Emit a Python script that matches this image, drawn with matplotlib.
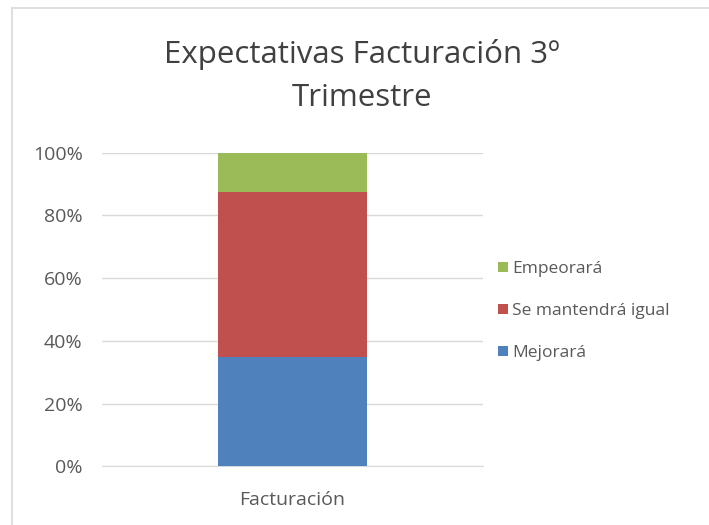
import matplotlib
matplotlib.use("Agg")
import matplotlib.pyplot as plt
from matplotlib.lines import Line2D
from matplotlib.ticker import PercentFormatter

plt.rcParams['font.family'] = ['Open Sans', 'DejaVu Sans']

category = ['Facturación']
series = ['Mejorará', 'Se mantendrá igual', 'Empeorará']
values = [35.0, 52.5, 12.5]
colors = ['#4f81bd', '#c0504d', '#9bbb59']
yticks = [0, 20, 40, 60, 80, 100]

fig = plt.figure(figsize=(7.09, 5.25), dpi=100)
# chart-area border (only top and left edges visible in the crop)
fig.lines.append(Line2D([0.017, 1.0], [0.984, 0.984], transform=fig.transFigure,
                        color='#d9d9d9', linewidth=1.2))
fig.lines.append(Line2D([0.017, 0.017], [0.0, 0.984], transform=fig.transFigure,
                        color='#d9d9d9', linewidth=1.2))
ax = fig.add_axes([0.144, 0.112, 0.537, 0.597])

bottom = 0
handles = []
for name, v, c in zip(series, values, colors):
    b = ax.bar(category, [v], bottom=bottom, width=0.39, color=c, label=name, zorder=3)
    handles.append(b)
    bottom += v

ax.set_xlim(-0.5, 0.5)
ax.set_ylim(0, 100)
ax.set_yticks(yticks)
ax.yaxis.set_major_formatter(PercentFormatter(decimals=0))
ax.grid(axis='y', color='#d9d9d9', linewidth=1, zorder=0)
for s in ['top', 'right', 'left']:
    ax.spines[s].set_visible(False)
ax.spines['bottom'].set_color('#d9d9d9')
ax.tick_params(axis='both', length=0, labelsize=14, colors='#595959')
ax.tick_params(axis='y', pad=14)
ax.tick_params(axis='x', pad=18)

fig.text(0.51, 0.855, 'Expectativas Facturación 3º\nTrimestre', ha='center', va='center',
         fontsize=22.5, color='#404040', linespacing=1.55)

leg = ax.legend(handles[::-1], series[::-1], loc='center left', bbox_to_anchor=(1.0, 0.495),
                frameon=False, fontsize=12.5, handlelength=0.55, handleheight=0.55,
                handletextpad=0.25, labelspacing=1.5, labelcolor='#595959')

fig.savefig('out.png', dpi=100)
